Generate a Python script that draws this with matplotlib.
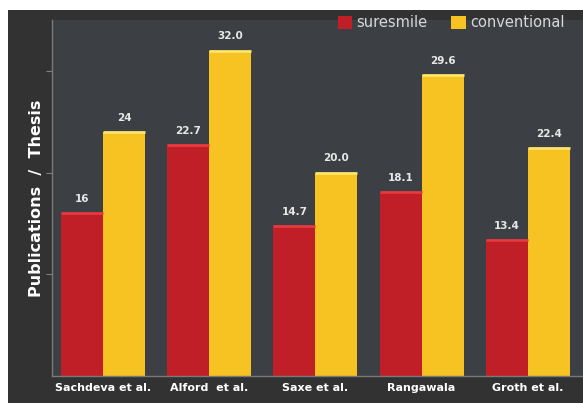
import matplotlib.pyplot as plt
import numpy as np
from matplotlib.patches import Rectangle

studies = ["Sachdeva et al.", "Alford  et al.", "Saxe et al.", "Rangawala", "Groth et al."]
suresmile = [16, 22.7, 14.7, 18.1, 13.4]
conventional = [24, 32.0, 20.0, 29.6, 22.4]
suresmile_labels = ["16", "22.7", "14.7", "18.1", "13.4"]
conventional_labels = ["24", "32.0", "20.0", "29.6", "22.4"]

red = "#c01f27"
yellow = "#f6c322"
txt = "#e8e8e8"

fig = plt.figure(figsize=(5.83, 4.03), dpi=100)
fig.patch.set_facecolor("white")
fig.add_artist(Rectangle((8 / 583, 0), 1, 393 / 403, transform=fig.transFigure,
                         facecolor="#323232", edgecolor="none", zorder=-10))

ax = fig.add_axes([52 / 583, 27 / 403, 531 / 583, 356 / 403])
ax.set_facecolor("#3c3f43")

x = np.arange(len(studies))
w = 0.395
b1 = ax.bar(x - w / 2, suresmile, w, color=red, label="suresmile", zorder=2)
b2 = ax.bar(x + w / 2, conventional, w, color=yellow, label="conventional", zorder=2)

# light highlight on the bar tops
for bars, col in ((b1, "#e8393f"), (b2, "#fde46a")):
    for r in bars:
        ax.plot([r.get_x(), r.get_x() + r.get_width()], [r.get_height()] * 2,
                color=col, lw=2, solid_capstyle="butt", zorder=3)

for xi, v, s in zip(x, suresmile, suresmile_labels):
    ax.text(xi - w / 2, v + 0.9, s, ha="center", va="bottom", color=txt,
            fontsize=7.5, fontweight="bold")
for xi, v, s in zip(x, conventional, conventional_labels):
    ax.text(xi + w / 2, v + 0.9, s, ha="center", va="bottom", color=txt,
            fontsize=7.5, fontweight="bold")

ax.set_xlim(-0.48, 4.52)
ax.set_ylim(0, 35)
ax.set_xticks(x)
ax.set_xticklabels(studies, color="white", fontsize=8, fontweight="bold")
ax.set_yticks([10, 20, 30])
ax.set_yticklabels([])
ax.tick_params(axis="x", length=0, pad=5)
ax.tick_params(axis="y", length=4, color="#808080", direction="out")
for s in ("top", "right"):
    ax.spines[s].set_visible(False)
for s in ("left", "bottom"):
    ax.spines[s].set_color("#7a7a7a")
    ax.spines[s].set_linewidth(1)

ax.set_ylabel("Publications  /  Thesis", color="white", fontsize=11.5,
              fontweight="bold", labelpad=-2)

leg = ax.legend(loc="upper right", bbox_to_anchor=(0.99, 1.05), ncol=2, frameon=False,
                fontsize=10.5, handlelength=1.0, handleheight=1.0, handletextpad=0.3,
                columnspacing=1.6, labelcolor="#d8d8d8")

fig.savefig("out.png", dpi=100, facecolor=fig.get_facecolor())
